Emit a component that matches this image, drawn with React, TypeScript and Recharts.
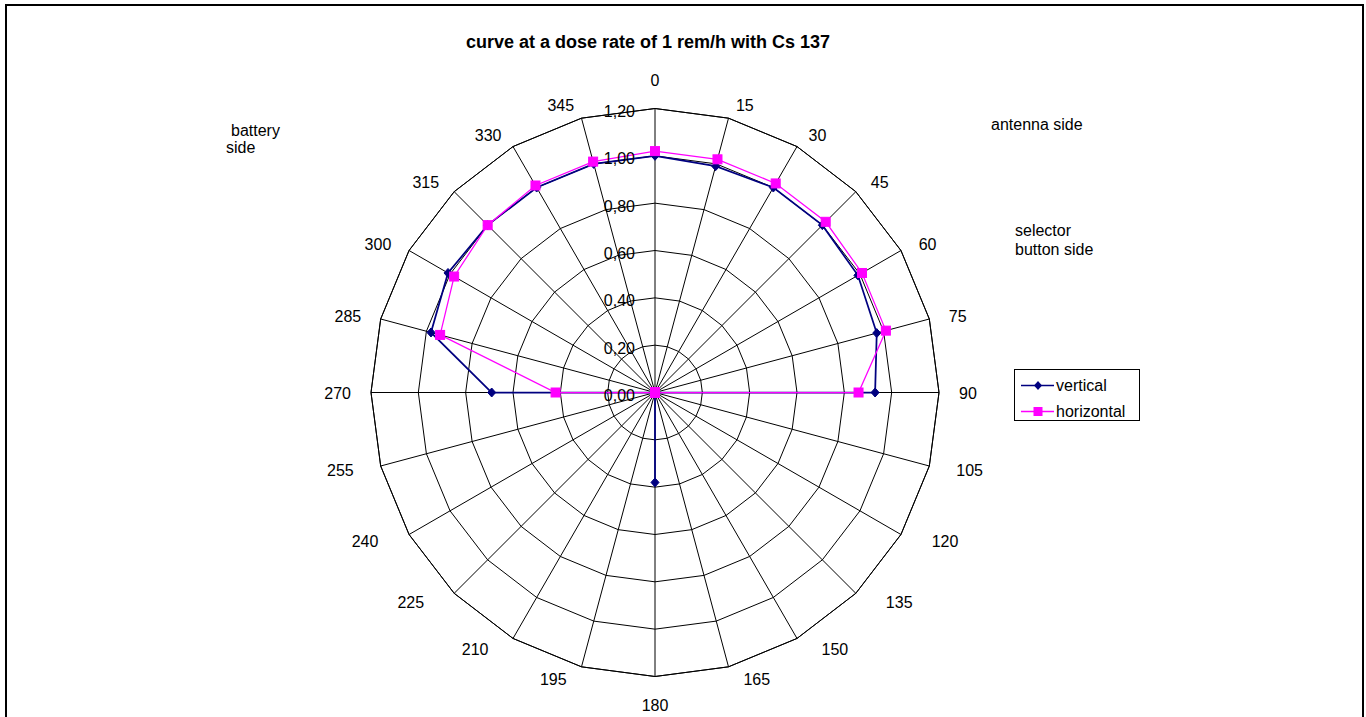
import React from "react";
import {
  RadarChart,
  Radar,
  PolarGrid,
  PolarAngleAxis,
  PolarRadiusAxis,
  Legend,
} from "recharts";

// angle (degrees) around the detector
const angles = [
  "0", "15", "30", "45", "60", "75", "90", "105", "120", "135", "150", "165",
  "180", "195", "210", "225", "240", "255", "270", "285", "300", "315", "330", "345",
];

// relative dose rate readings
const vertical = [
  1.0, 0.99, 1.0, 1.0, 0.99, 0.97, 0.93, 0, 0, 0, 0, 0,
  0.38, 0, 0, 0, 0, 0, 0.69, 0.98, 1.01, 1.0, 1.0, 1.0,
];
const horizontal = [
  1.02, 1.02, 1.02, 1.02, 1.01, 1.01, 0.86, 0, 0, 0, 0, 0,
  0, 0, 0, 0, 0, 0, 0.42, 0.94, 0.98, 1.0, 1.01, 1.01,
];

const radiusTicks = [0, 0.2, 0.4, 0.6, 0.8, 1.0, 1.2];

const FONT = '"Liberation Sans", Arial, sans-serif';
const NAVY = "#000080";
const MAGENTA = "#FF00FF";

const data = angles.map((a, i) => ({
  angle: a,
  vertical: vertical[i],
  horizontal: horizontal[i],
}));

function Diamond(props: any) {
  const { cx, cy, index } = props;
  if (cx == null || cy == null) return <g key={index} />;
  return (
    <path
      key={`d-${index}`}
      d={`M${cx},${cy - 4.5}L${cx + 4},${cy}L${cx},${cy + 4.5}L${cx - 4},${cy}Z`}
      fill={NAVY}
      stroke={NAVY}
    />
  );
}

function Square(props: any) {
  const { cx, cy, index } = props;
  if (cx == null || cy == null) return <g key={index} />;
  return (
    <rect
      key={`s-${index}`}
      x={cx - 4.5}
      y={cy - 4.5}
      width={9}
      height={9}
      fill={MAGENTA}
      stroke={MAGENTA}
    />
  );
}

function AngleTick(props: any) {
  const { x, y, payload } = props;
  const a = Number(payload.value);
  const rad = (a * Math.PI) / 180;
  const s = Math.sin(rad);
  const c = Math.cos(rad);
  let tx = x;
  let ty = y;
  let anchor: "start" | "middle" | "end" = "middle";
  if (a === 0) {
    ty = y - 15;
  } else if (a === 180) {
    ty = y + 26;
  } else {
    anchor = s > 0 ? "start" : "end";
    const gap = c > 0 ? 3 + 9 * Math.abs(s) : 3 + 9 * Math.abs(s) + 30 * Math.abs(s * c);
    tx = x + Math.sign(s) * gap;
    const centerY = c > 0 ? y - 6 * c + 1 : y - 4 * c + 1;
    ty = centerY + 5.5;
  }
  return (
    <text x={tx} y={ty} textAnchor={anchor} fontFamily={FONT} fontSize={16} fill="#000">
      {payload.value}
    </text>
  );
}

function RadiusTick(props: any) {
  const { x, y, payload } = props;
  return (
    <text
      x={x - 20}
      y={y + 3}
      dy="0.35em"
      textAnchor="end"
      fontFamily={FONT}
      fontSize={16}
      fill="#000"
    >
      {Number(payload.value).toFixed(2).replace(".", ",")}
    </text>
  );
}

function LegendBox() {
  const rows = [
    { name: "vertical", color: NAVY, shape: "diamond", y: 15.5 },
    { name: "horizontal", color: MAGENTA, shape: "square", y: 41.5 },
  ];
  return (
    <div
      style={{
        position: "relative",
        width: 126,
        height: 52,
        border: "1px solid #000",
        boxSizing: "border-box",
        background: "#fff",
        fontFamily: FONT,
        fontSize: 16,
      }}
    >
      <svg width={44} height={52} style={{ position: "absolute", left: 0, top: 0 }}>
        {rows.map((r) => (
          <g key={r.name}>
            <line x1={6} x2={39} y1={r.y} y2={r.y} stroke={r.color} strokeWidth={1.5} />
            {r.shape === "diamond" ? (
              <path
                d={`M23,${r.y - 4.5}L27,${r.y}L23,${r.y + 4.5}L19,${r.y}Z`}
                fill={r.color}
              />
            ) : (
              <rect x={18.5} y={r.y - 4.5} width={9} height={9} fill={r.color} />
            )}
          </g>
        ))}
      </svg>
      {rows.map((r) => (
        <div
          key={r.name}
          style={{
            position: "absolute",
            left: 41,
            top: r.y - 10,
            lineHeight: "20px",
            whiteSpace: "nowrap",
          }}
        >
          {r.name}
        </div>
      ))}
    </div>
  );
}

const label = (text: string, left: number, top: number, extra: any = {}) => (
  <div
    style={{
      position: "absolute",
      left,
      top,
      fontFamily: FONT,
      fontSize: 16,
      lineHeight: "18px",
      whiteSpace: "nowrap",
      color: "#000",
      ...extra,
    }}
  >
    {text}
  </div>
);

export default function App() {
  return (
    <div
      style={{
        position: "absolute",
        left: 0,
        top: 0,
        width: 1366,
        height: 717,
        overflow: "hidden",
        background: "#fff",
      }}
    >
      <div
        style={{
          position: "absolute",
          left: 5,
          top: 4,
          width: 1359,
          height: 730,
          border: "2px solid #000",
          boxSizing: "border-box",
        }}
      />
      {label("curve at a dose rate of 1 rem/h with Cs 137", 648, 32, {
        fontWeight: "bold",
        fontSize: 18,
        lineHeight: "20px",
        transform: "translateX(-50%)",
      })}
      {label("battery", 231, 122)}
      {label("side", 226, 139)}
      {label("antenna side", 991, 116)}
      {label("selector", 1015, 222)}
      {label("button side", 1015, 241)}
      <div style={{ position: "absolute", left: 0, top: 0 }}>
        <RadarChart
          width={1366}
          height={717}
          data={data}
          cx={655}
          cy={392.5}
          outerRadius={284}
          startAngle={90}
          endAngle={-270}
          margin={{ top: 0, right: 0, bottom: 0, left: 0 }}
        >
          <PolarGrid gridType="polygon" stroke="#000" strokeWidth={1} />
          <PolarAngleAxis
            dataKey="angle"
            tick={<AngleTick />}
            tickSize={0}
            tickLine={false}
            axisLine={{ stroke: "#000" }}
          />
          <PolarRadiusAxis
            angle={90}
            type="number"
            domain={[0, 1.2]}
            ticks={radiusTicks}
            tickCount={7}
            axisLine={false}
            tickLine={false}
            tick={<RadiusTick />}
          />
          <Radar
            name="vertical"
            dataKey="vertical"
            stroke={NAVY}
            strokeWidth={1.75}
            fill="none"
            fillOpacity={0}
            dot={Diamond}
            isAnimationActive={false}
          />
          <Radar
            name="horizontal"
            dataKey="horizontal"
            stroke={MAGENTA}
            strokeWidth={1.25}
            fill="none"
            fillOpacity={0}
            dot={Square}
            isAnimationActive={false}
          />
          <Legend
            layout="vertical"
            align="right"
            verticalAlign="middle"
            content={() => <LegendBox />}
            wrapperStyle={{ left: 1014, top: 369, width: 126, height: 52, right: "auto", bottom: "auto" }}
          />
        </RadarChart>
      </div>
    </div>
  );
}
